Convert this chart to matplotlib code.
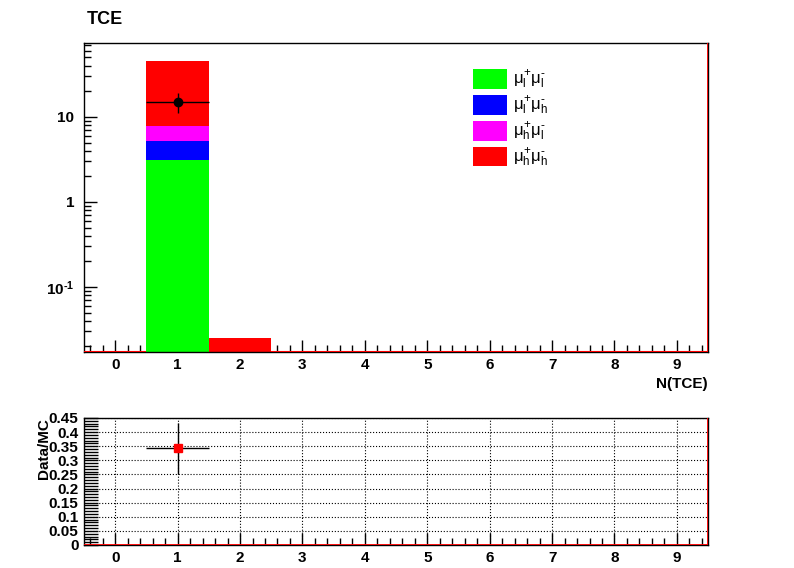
import matplotlib
matplotlib.use('Agg')
import matplotlib.pyplot as plt
import numpy as np
from matplotlib.ticker import MultipleLocator, LogLocator, NullFormatter, FixedLocator, FuncFormatter

plt.rcParams['font.family'] = ['Liberation Sans', 'DejaVu Sans']
plt.rcParams['mathtext.fontset'] = 'custom'
plt.rcParams['mathtext.rm'] = 'Liberation Sans'
plt.rcParams['mathtext.it'] = 'Liberation Sans'
plt.rcParams['mathtext.bf'] = 'Liberation Sans:bold'

## data
bins = np.arange(0, 10)
ll = np.array([0, 3.1, 0, 0, 0, 0, 0, 0, 0, 0])
lh = np.array([0, 2.1, 0, 0, 0, 0, 0, 0, 0, 0])
hl = np.array([0, 2.6, 0, 0, 0, 0, 0, 0, 0, 0])
hh = np.array([0, 37.8, 0.025, 0, 0, 0, 0, 0, 0, 0])
data_x = [1]
data_y = [15.0]
data_err = [3.9]
ratio_x = [1]
ratio_y = [0.343]
ratio_err = [0.09]

labels = [r'$\mu_{l}^{+}\mu_{l}^{‐}$', r'$\mu_{l}^{+}\mu_{h}^{‐}$',
          r'$\mu_{h}^{+}\mu_{l}^{‐}$', r'$\mu_{h}^{+}\mu_{h}^{‐}$']
colors = ['#00ff00', '#0000ff', '#ff00ff', '#ff0000']

ymin, ymax = 0.0172, 74

fig = plt.figure(figsize=(7.94, 5.68), dpi=100)
ax1 = fig.add_axes([0.1058, 0.3803, 0.786, 0.544])
ax2 = fig.add_axes([0.1058, 0.0405, 0.786, 0.2236])

## top panel: stacked histogram
prev = np.zeros(len(bins))
handles = []
for vals, c in zip([ll, lh, hl, hh], colors):
    top = prev + vals
    lo = np.maximum(prev, ymin)
    h = ax1.bar(bins, np.where(vals > 0, top - lo, 0), width=1.0, bottom=lo,
                color=c, linewidth=0, zorder=2)
    handles.append(h)
    prev = top

# red line along the bottom for empty bins
empty = bins[prev == 0]
ax1.hlines([ymin * 1.01] * len(empty), empty - 0.5, empty + 0.5, color='red', lw=1.5, zorder=3)
ax1.axvline(9.5, color='red', lw=2, zorder=3)

ax1.errorbar(data_x, data_y, yerr=data_err, xerr=0.5, fmt='o', color='black',
             ms=6, elinewidth=1, capsize=0, zorder=4)

ax1.set_yscale('log')
ax1.set_xlim(-0.5, 9.5)
ax1.set_ylim(ymin, ymax)
ax1.yaxis.set_major_locator(FixedLocator([0.1, 1, 10]))
ax1.yaxis.set_major_formatter(FuncFormatter(
    lambda v, p: {0.1: r'$\mathbf{10^{‐1}}$', 1: '1', 10: '10'}.get(round(v, 3), '')))
ax1.yaxis.set_minor_locator(LogLocator(base=10, subs=np.arange(2, 10)))
ax1.yaxis.set_minor_formatter(NullFormatter())
ax1.xaxis.set_major_locator(MultipleLocator(1))
ax1.xaxis.set_minor_locator(MultipleLocator(0.2))
ax1.set_xlabel('N(TCE)', fontsize=11, fontweight='bold', loc='right', labelpad=4)
ax1.set_title('TCE', fontsize=13, fontweight='bold', loc='left', x=0.005, pad=14)

ax1.legend(handles, labels, loc='upper left', bbox_to_anchor=(0.6, 0.965),
           frameon=False, fontsize=12, handlelength=2.0, handleheight=1.45,
           labelspacing=0.2, handletextpad=0.4)

## ratio panel
ax2.errorbar(ratio_x, ratio_y, yerr=ratio_err, xerr=0.5, fmt='s', color='black',
             mfc='red', mec='red', ms=6, elinewidth=1, capsize=0, zorder=4)
ax2.axhline(0, color='red', lw=2, zorder=3)
ax2.axvline(9.5, color='red', lw=2, zorder=3)
ax2.set_xlim(-0.5, 9.5)
ax2.set_ylim(0, 0.45)
ax2.xaxis.set_major_locator(MultipleLocator(1))
ax2.xaxis.set_minor_locator(MultipleLocator(0.2))
ax2.yaxis.set_major_locator(FixedLocator(np.arange(0, 0.451, 0.05)))
ax2.yaxis.set_major_formatter(FuncFormatter(lambda v, p: '%g' % round(v, 2)))
ax2.yaxis.set_minor_locator(MultipleLocator(0.01))
ax2.grid(True, which='major', color='black', linestyle=':', linewidth=0.8)
ax2.set_ylabel('Data/MC', fontsize=11, fontweight='bold', loc='top', labelpad=-2)

for ax in (ax1, ax2):
    ax.tick_params(which='both', direction='in', top=False, right=False,
                   labelsize=11)
    ax.tick_params(axis='x', pad=4)
    ax.tick_params(axis='y', pad=7)
    ax.tick_params(which='major', length=9, width=1)
    ax.tick_params(which='minor', length=5, width=1)
    for lab in ax.get_xticklabels() + ax.get_yticklabels():
        lab.set_fontweight('bold')
    for s in ax.spines.values():
        s.set_linewidth(1)
ax2.tick_params(axis='y', which='both', length=10, pad=4)

fig.savefig('out.png', dpi=100)
